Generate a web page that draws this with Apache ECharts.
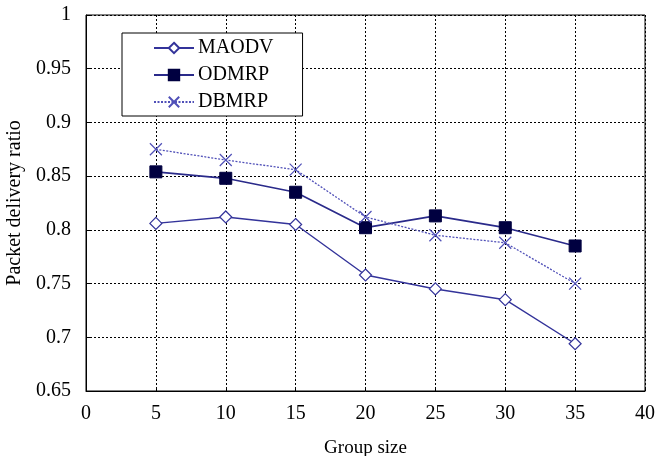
<!DOCTYPE html>
<html><head><meta charset="utf-8">
<script src="https://cdn.jsdelivr.net/npm/echarts@6/dist/echarts.min.js"></script>
<style>html,body{margin:0;padding:0;background:#fff}#c{width:658px;height:456px}</style>
</head><body><div id="c"></div>
<script>
const groupSizes = [5, 10, 15, 20, 25, 30, 35];
const maodv = [0.806, 0.812, 0.805, 0.758, 0.745, 0.735, 0.694];
const odmrp = [0.854, 0.848, 0.835, 0.802, 0.813, 0.802, 0.785];
const dbmrp = [0.875, 0.865, 0.856, 0.812, 0.795, 0.788, 0.750];
const font = 'Liberation Serif';
const pair = a => groupSizes.map((x, i) => [x, a[i]]);
const chart = echarts.init(document.getElementById('c'));
chart.setOption({
  animation: false,
  backgroundColor: '#fff',
  grid: {left: 86, right: 13, top: 15, bottom: 65, show: true, borderColor: '#000', borderWidth: 1,
         containLabel: false, outerBoundsMode: 'none'},
  xAxis: {
    type: 'value', min: 0, max: 40, interval: 5,
    name: 'Group size', nameLocation: 'middle', nameGap: 48,
    nameTextStyle: {fontFamily: font, fontSize: 19, color: '#000'},
    axisLine: {lineStyle: {color: '#000', width: 1}},
    axisTick: {show: true, inside: true, length: 4, lineStyle: {color: '#000'}},
    axisLabel: {fontFamily: font, fontSize: 20, color: '#000', margin: 13},
    splitLine: {show: true, lineStyle: {color: '#000', type: [2, 2], width: 1}}
  },
  yAxis: {
    type: 'value', min: 0.65, max: 1, interval: 0.05,
    name: 'Packet delivery ratio', nameLocation: 'middle', nameGap: 56,
    nameTextStyle: {fontFamily: font, fontSize: 20, color: '#000'},
    axisLine: {show: true, lineStyle: {color: '#000', width: 1}},
    axisTick: {show: true, inside: true, length: 4, lineStyle: {color: '#000'}},
    axisLabel: {fontFamily: font, fontSize: 20, color: '#000', margin: 15,
      formatter: v => String(parseFloat(v.toFixed(2)))},
    splitLine: {show: true, lineStyle: {color: '#000', type: [2, 2], width: 1}}
  },
  legend: {
    orient: 'vertical', left: 122, top: 33,
    backgroundColor: '#fff', borderColor: '#000', borderWidth: 1,
    padding: [5, 29, 4, 31], itemGap: 7, itemWidth: 40, itemHeight: 13,
    textStyle: {fontFamily: font, fontSize: 20, color: '#000', padding: [0, 0, 0, -1]},
    data: ['MAODV', 'ODMRP', 'DBMRP']
  },
  series: [
    {name: 'MAODV', type: 'line', data: pair(maodv), symbol: 'diamond', symbolSize: 12,
     lineStyle: {color: '#33339a', width: 1.4},
     itemStyle: {color: '#fff', borderColor: '#33339a', borderWidth: 1.2}},
    {name: 'ODMRP', type: 'line', data: pair(odmrp), symbol: 'rect', symbolSize: 12,
     lineStyle: {color: '#2a2a8a', width: 1.7},
     itemStyle: {color: '#000040', borderColor: '#000040', borderWidth: 1}},
    {name: 'DBMRP', type: 'line', data: pair(dbmrp), symbol: 'path://M0,0L10,10M10,0L0,10', symbolSize: 12,
     lineStyle: {color: '#5050b8', width: 1.3, type: [2, 1.5]},
     itemStyle: {color: 'none', borderColor: '#5050b8', borderWidth: 1.2}}
  ]
});
</script></body></html>
